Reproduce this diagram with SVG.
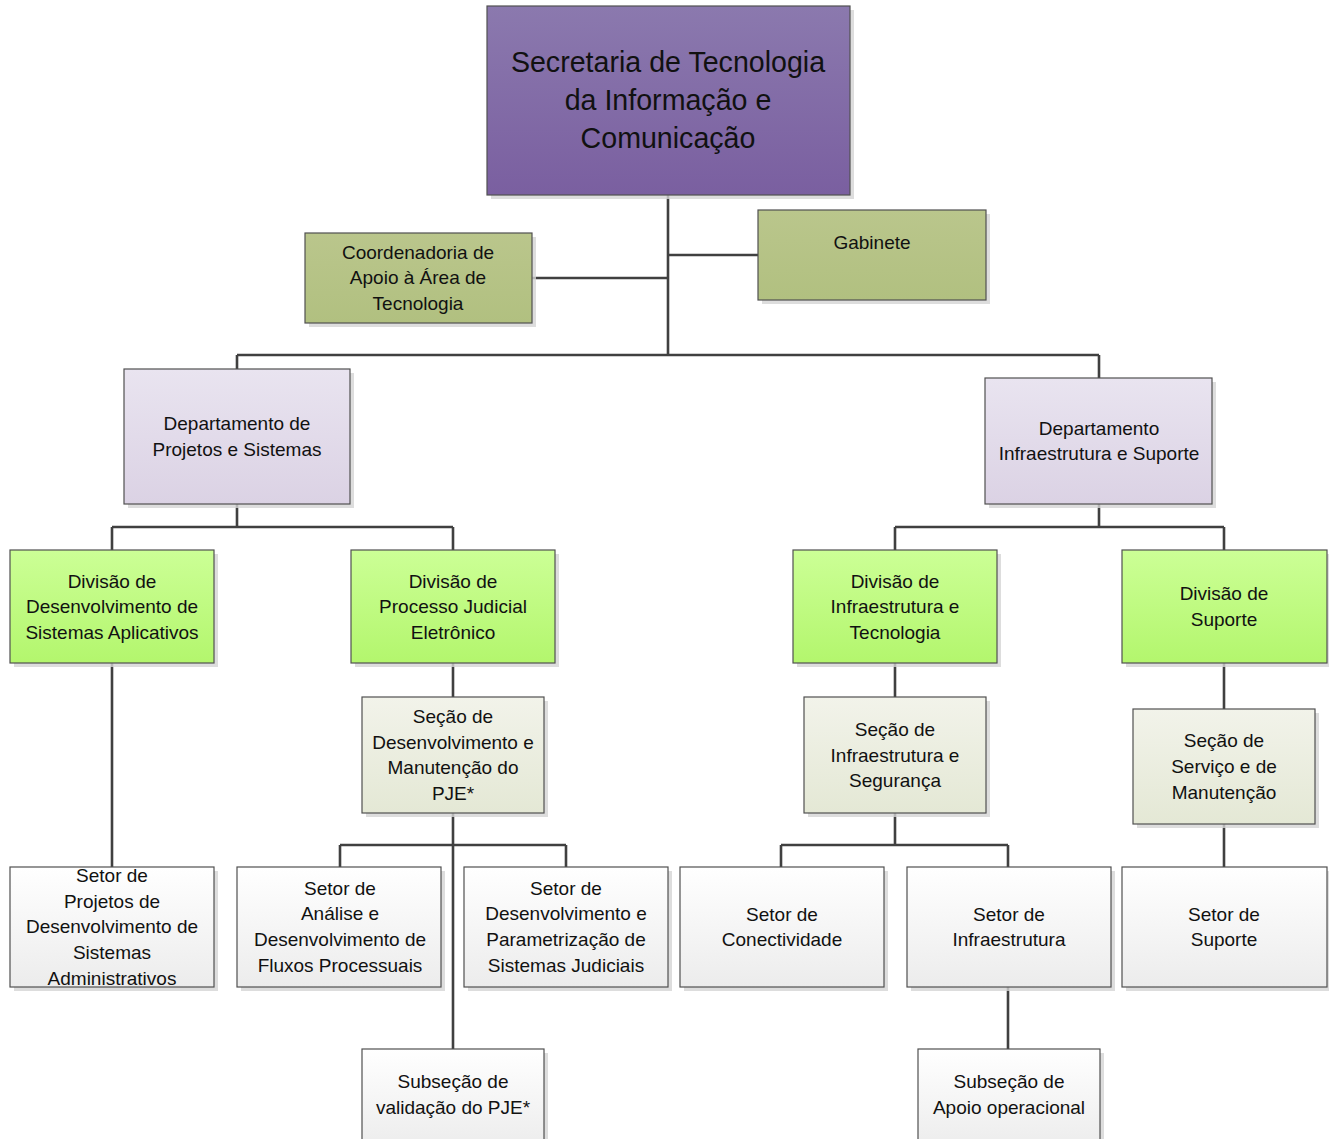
<svg xmlns="http://www.w3.org/2000/svg" width="1329" height="1139" viewBox="0 0 1329 1139">
<defs>
<linearGradient id="gTop" x1="0" y1="0" x2="0" y2="1"><stop offset="0" stop-color="#8b79ae"/><stop offset="1" stop-color="#7a5fa0"/></linearGradient>
<linearGradient id="gOlive" x1="0" y1="0" x2="0" y2="1"><stop offset="0" stop-color="#bac68c"/><stop offset="1" stop-color="#b1c080"/></linearGradient>
<linearGradient id="gDept" x1="0" y1="0" x2="0" y2="1"><stop offset="0" stop-color="#e9e4f0"/><stop offset="1" stop-color="#dbd2e4"/></linearGradient>
<linearGradient id="gDiv" x1="0" y1="0" x2="0" y2="1"><stop offset="0" stop-color="#ccff96"/><stop offset="1" stop-color="#b3f66d"/></linearGradient>
<linearGradient id="gSec" x1="0" y1="0" x2="0" y2="1"><stop offset="0" stop-color="#f2f3ea"/><stop offset="1" stop-color="#e4e8d5"/></linearGradient>
<linearGradient id="gSet" x1="0" y1="0" x2="0" y2="1"><stop offset="0" stop-color="#ffffff"/><stop offset="1" stop-color="#ececec"/></linearGradient>
</defs>
<style>
.box{stroke:#505050;stroke-width:1.2}
.sh{fill:#d4d4d4;opacity:0.8}
.top{fill:url(#gTop)}
.olive{fill:url(#gOlive)}
.dept{fill:url(#gDept)}
.div{fill:url(#gDiv)}
.sec{fill:url(#gSec)}
.set{fill:url(#gSet)}
text{font-family:"Liberation Sans",Arial,sans-serif;font-size:19px;fill:#111;text-anchor:middle}
.big{font-size:28.6px}
.conn{fill:none;stroke:#404040;stroke-width:2.6}
</style>
<rect width="1329" height="1139" fill="#ffffff"/>
<g id="connectors">
<path class="conn" d="M668,195 V355 M668,255 H758 M532,278 H668 M237,355 H1099 M237,355 V369 M1099,355 V378 M237,504 V527 M112,527 H453 M112,527 V550 M453,527 V550 M1099,504 V527 M895,527 H1224 M895,527 V550 M1224,527 V550 M112,663 V867 M453,663 V697 M453,813 V1049 M340,845 H566 M340,845 V867 M566,845 V867 M895,663 V697 M895,813 V845 M781,845 H1008 M781,845 V867 M1008,845 V867 M1008,987 V1049 M1224,663 V709 M1224,824 V867"/>
</g>
<g id="n-secretaria">
<rect class="sh" x="491" y="10" width="363" height="189"/>
<rect class="box top" x="487" y="6" width="363" height="189"/>
<text class="big" x="668" y="72">Secretaria de Tecnologia</text>
<text class="big" x="668" y="110">da Informação e</text>
<text class="big" x="668" y="148">Comunicação</text>
</g>
<g id="n-gabinete">
<rect class="sh" x="762" y="214" width="228" height="90"/>
<rect class="box olive" x="758" y="210" width="228" height="90"/>
<text x="872" y="249">Gabinete</text>
</g>
<g id="n-coordenadoria">
<rect class="sh" x="309" y="237" width="227" height="90"/>
<rect class="box olive" x="305" y="233" width="227" height="90"/>
<text x="418" y="259">Coordenadoria de</text>
<text x="418" y="284">Apoio à Área de</text>
<text x="418" y="310">Tecnologia</text>
</g>
<g id="n-dept-projetos">
<rect class="sh" x="128" y="373" width="226" height="135"/>
<rect class="box dept" x="124" y="369" width="226" height="135"/>
<text x="237" y="430">Departamento de</text>
<text x="237" y="456">Projetos e Sistemas</text>
</g>
<g id="n-dept-infra">
<rect class="sh" x="989" y="382" width="227" height="126"/>
<rect class="box dept" x="985" y="378" width="227" height="126"/>
<text x="1099" y="435">Departamento</text>
<text x="1099" y="460">Infraestrutura e Suporte</text>
</g>
<g id="n-div-dsa">
<rect class="sh" x="14" y="554" width="204" height="113"/>
<rect class="box div" x="10" y="550" width="204" height="113"/>
<text x="112" y="588">Divisão de</text>
<text x="112" y="613">Desenvolvimento de</text>
<text x="112" y="639">Sistemas Aplicativos</text>
</g>
<g id="n-div-pje">
<rect class="sh" x="355" y="554" width="204" height="113"/>
<rect class="box div" x="351" y="550" width="204" height="113"/>
<text x="453" y="588">Divisão de</text>
<text x="453" y="613">Processo Judicial</text>
<text x="453" y="639">Eletrônico</text>
</g>
<g id="n-div-infra">
<rect class="sh" x="797" y="554" width="204" height="113"/>
<rect class="box div" x="793" y="550" width="204" height="113"/>
<text x="895" y="588">Divisão de</text>
<text x="895" y="613">Infraestrutura e</text>
<text x="895" y="639">Tecnologia</text>
</g>
<g id="n-div-suporte">
<rect class="sh" x="1126" y="554" width="205" height="113"/>
<rect class="box div" x="1122" y="550" width="205" height="113"/>
<text x="1224" y="600">Divisão de</text>
<text x="1224" y="626">Suporte</text>
</g>
<g id="n-sec-pje">
<rect class="sh" x="366" y="701" width="182" height="116"/>
<rect class="box sec" x="362" y="697" width="182" height="116"/>
<text x="453" y="723">Seção de</text>
<text x="453" y="749">Desenvolvimento e</text>
<text x="453" y="774">Manutenção do</text>
<text x="453" y="800">PJE*</text>
</g>
<g id="n-sec-infra">
<rect class="sh" x="808" y="701" width="182" height="116"/>
<rect class="box sec" x="804" y="697" width="182" height="116"/>
<text x="895" y="736">Seção de</text>
<text x="895" y="762">Infraestrutura e</text>
<text x="895" y="787">Segurança</text>
</g>
<g id="n-sec-servico">
<rect class="sh" x="1137" y="713" width="182" height="115"/>
<rect class="box sec" x="1133" y="709" width="182" height="115"/>
<text x="1224" y="747">Seção de</text>
<text x="1224" y="773">Serviço e de</text>
<text x="1224" y="799">Manutenção</text>
</g>
<g id="n-setor-projetos">
<rect class="sh" x="14" y="871" width="204" height="120"/>
<rect class="box set" x="10" y="867" width="204" height="120"/>
<text x="112" y="882">Setor de</text>
<text x="112" y="908">Projetos de</text>
<text x="112" y="933">Desenvolvimento de</text>
<text x="112" y="959">Sistemas</text>
<text x="112" y="985">Administrativos</text>
</g>
<g id="n-setor-analise">
<rect class="sh" x="241" y="871" width="204" height="120"/>
<rect class="box set" x="237" y="867" width="204" height="120"/>
<text x="340" y="895">Setor de</text>
<text x="340" y="920">Análise e</text>
<text x="340" y="946">Desenvolvimento de</text>
<text x="340" y="972">Fluxos Processuais</text>
</g>
<g id="n-setor-param">
<rect class="sh" x="468" y="871" width="204" height="120"/>
<rect class="box set" x="464" y="867" width="204" height="120"/>
<text x="566" y="895">Setor de</text>
<text x="566" y="920">Desenvolvimento e</text>
<text x="566" y="946">Parametrização de</text>
<text x="566" y="972">Sistemas Judiciais</text>
</g>
<g id="n-setor-conect">
<rect class="sh" x="684" y="871" width="204" height="120"/>
<rect class="box set" x="680" y="867" width="204" height="120"/>
<text x="782" y="921">Setor de</text>
<text x="782" y="946">Conectividade</text>
</g>
<g id="n-setor-infra">
<rect class="sh" x="911" y="871" width="204" height="120"/>
<rect class="box set" x="907" y="867" width="204" height="120"/>
<text x="1009" y="921">Setor de</text>
<text x="1009" y="946">Infraestrutura</text>
</g>
<g id="n-setor-suporte">
<rect class="sh" x="1126" y="871" width="205" height="120"/>
<rect class="box set" x="1122" y="867" width="205" height="120"/>
<text x="1224" y="921">Setor de</text>
<text x="1224" y="946">Suporte</text>
</g>
<g id="n-subsecao-pje">
<rect class="sh" x="366" y="1053" width="182" height="100"/>
<rect class="box set" x="362" y="1049" width="182" height="100"/>
<text x="453" y="1088">Subseção de</text>
<text x="453" y="1114">validação do PJE*</text>
</g>
<g id="n-subsecao-apoio">
<rect class="sh" x="922" y="1053" width="182" height="100"/>
<rect class="box set" x="918" y="1049" width="182" height="100"/>
<text x="1009" y="1088">Subseção de</text>
<text x="1009" y="1114">Apoio operacional</text>
</g>
</svg>
